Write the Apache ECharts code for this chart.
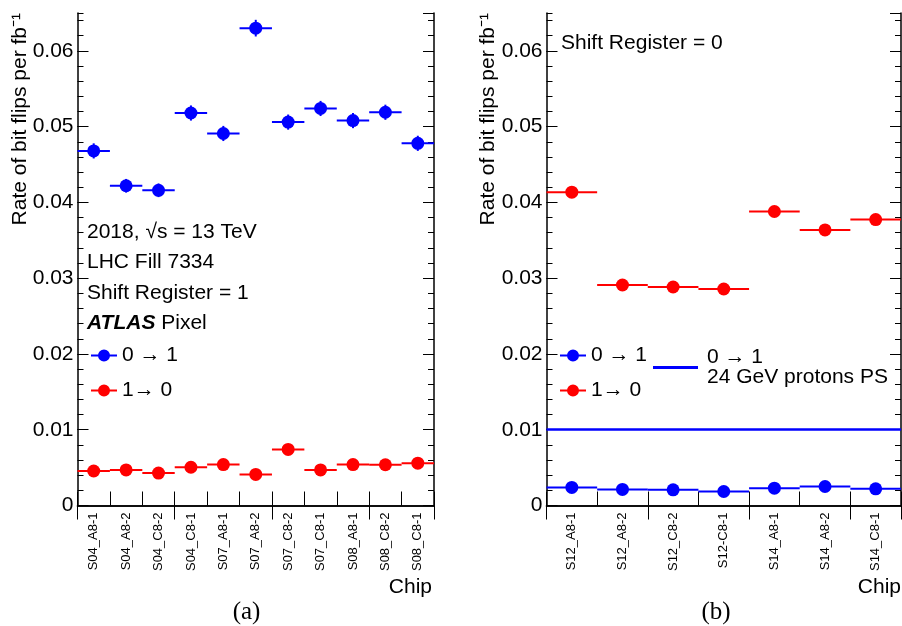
<!DOCTYPE html>
<html>
<head>
<meta charset="utf-8">
<script src="https://cdn.jsdelivr.net/npm/echarts@6/dist/echarts.min.js"></script>
<style>
html,body{margin:0;padding:0;background:#fff;}
#c{width:902px;height:626px;}
</style>
</head>
<body>
<div id="c"></div>
<script>
// ---------- data ----------
const chipsA = ['S04_A8-1','S04_A8-2','S04_C8-2','S04_C8-1','S07_A8-1','S07_A8-2','S07_C8-2','S07_C8-1','S08_A8-1','S08_C8-2','S08_C8-1'];
const a01 = [0.0468,0.0422,0.0416,0.0518,0.0491,0.0630,0.0506,0.0524,0.0508,0.0519,0.0478];
const a01Err = [0.0010,0.0009,0.0009,0.0010,0.0010,0.0011,0.0010,0.0010,0.0010,0.0010,0.0010];
const a10 = [0.00455,0.00470,0.00428,0.00505,0.00540,0.00410,0.00740,0.00470,0.00540,0.00538,0.00558];
const a10Err = [0.0003,0.0003,0.0003,0.0003,0.0003,0.0003,0.0004,0.0003,0.0003,0.0003,0.0003];

const chipsB = ['S12_A8-1','S12_A8-2','S12_C8-2','S12-C8-1','S14_A8-1','S14_A8-2','S14_C8-1'];
const b01 = [0.00238,0.00212,0.00207,0.00185,0.00229,0.00251,0.00220];
const b01Err = [0.0002,0.0002,0.0002,0.0002,0.0002,0.0002,0.0002];
const b10 = [0.04135,0.0291,0.02884,0.02857,0.0388,0.03637,0.03774];
const b10Err = [0.0003,0.0003,0.0003,0.0003,0.0003,0.0003,0.0003];
const psRate = 0.01;

const yMin = 0, yMax = 0.065, yMajor = 0.01, yMinor = 0.002;
const yTitle = 'Rate of bit flips per fb\u207B\u00B9';
const xTitle = 'Chip';

// ---------- styling ----------
const BLUE = '#0000ff', RED = '#ff0000';
const FONT = 'Liberation Sans, Arial, sans-serif';
const FS = 21;
// line + filled circle, same winding so the overlap stays filled
const legendIcon = 'path://M0,5 L26,5 L26,7 L0,7 Z M7,6 A6,6 0 1,1 19,6 A6,6 0 1,1 7,6 Z';

const chart = echarts.init(document.getElementById('c'), null, {renderer:'canvas'});

const grids = [
  {left: 77.5, right: 468, top: 13, bottom: 120.5},
  {left: 546.5, right: 1, top: 13, bottom: 120.5}
];

function xAxes(gi, cats){
  return [
    {type:'category', gridIndex:gi, data:cats, position:'bottom', boundaryGap:true,
     axisLine:{show:true, lineStyle:{color:'#000', width:1.5}},
     axisTick:{show:true, inside:true, length:14, alignWithLabel:false, lineStyle:{color:'#000', width:1}},
     axisLabel:{show:true, rotate:90, fontSize:13, fontFamily:FONT, color:'#000', margin:7, interval:0},
     splitLine:{show:false}},
    {type:'category', gridIndex:gi, data:cats, position:'top', boundaryGap:true,
     axisLine:{show:true, lineStyle:{color:'#000', width:1.5}},
     axisTick:{show:true, inside:true, length:14, alignWithLabel:false, lineStyle:{color:'#000', width:1}},
     axisLabel:{show:false}, splitLine:{show:false}}
  ];
}
function yAxes(gi){
  const base = {type:'value', gridIndex:gi, min:yMin, max:yMax, splitLine:{show:false}};
  return [
    Object.assign({}, base, {position:'left', interval:yMajor,
      axisLine:{show:true, lineStyle:{color:'#000', width:1.5}},
      axisTick:{show:true, inside:true, length:11, lineStyle:{color:'#000', width:1}},
      axisLabel:{show:true, fontSize:FS, fontFamily:FONT, color:'#000', margin:4, showMaxLabel:false,
        formatter: v => (Math.abs(v) < 1e-12 ? '0' : String(+v.toFixed(3)))}}),
    Object.assign({}, base, {position:'left', interval:yMinor,
      axisLine:{show:false}, axisTick:{show:true, inside:true, length:6, lineStyle:{color:'#000', width:1}},
      axisLabel:{show:false}}),
    Object.assign({}, base, {position:'right', interval:yMajor,
      axisLine:{show:true, lineStyle:{color:'#000', width:1.5}},
      axisTick:{show:true, inside:true, length:11, lineStyle:{color:'#000', width:1}},
      axisLabel:{show:false}}),
    Object.assign({}, base, {position:'right', interval:yMinor,
      axisLine:{show:false}, axisTick:{show:true, inside:true, length:6, lineStyle:{color:'#000', width:1}},
      axisLabel:{show:false}})
  ];
}

function errSeries(name, xi, yi, vals, errs, color){
  return {
    type:'custom', name:name, xAxisIndex:xi, yAxisIndex:yi, z:3,
    itemStyle:{color:color},
    data: vals.map((v,i)=>[i, v, errs[i]]),
    renderItem: function(params, api){
      const i = api.value(0), v = api.value(1), e = api.value(2);
      const c = api.coord([i, v]);
      const w = api.size([1, 0])[0];
      const lo = api.coord([i, v - e]), hi = api.coord([i, v + e]);
      return {type:'group', children:[
        {type:'line', shape:{x1:c[0]-w/2, y1:c[1], x2:c[0]+w/2, y2:c[1]}, style:{stroke:color, lineWidth:2}},
        {type:'line', shape:{x1:c[0], y1:lo[1], x2:c[0], y2:hi[1]}, style:{stroke:color, lineWidth:2}}
      ]};
    }
  };
}
function dotSeries(name, xi, yi, vals, color){
  return {type:'scatter', name:name, xAxisIndex:xi, yAxisIndex:yi, z:4,
    symbol:'circle', symbolSize:13, itemStyle:{color:color, opacity:1},
    data: vals.map((v,i)=>[i, v])};
}

const N01 = '0 \u2192 1', N10 = '1\u2192 0';
const series = [
  errSeries(N01, 0, 0, a01, a01Err, BLUE),
  dotSeries(N01, 0, 0, a01, BLUE),
  errSeries(N10, 0, 0, a10, a10Err, RED),
  dotSeries(N10, 0, 0, a10, RED),
  errSeries(N01, 2, 4, b01, b01Err, BLUE),
  dotSeries(N01, 2, 4, b01, BLUE),
  errSeries(N10, 2, 4, b10, b10Err, RED),
  dotSeries(N10, 2, 4, b10, RED),
  {type:'line', name:'PS', xAxisIndex:2, yAxisIndex:4, data:[], itemStyle:{color:BLUE},
   lineStyle:{color:BLUE, width:2.5},
   markLine:{silent:true, symbol:['none','none'], label:{show:false},
     lineStyle:{color:BLUE, width:2.5, type:'solid'},
     data:[{yAxis: psRate}]}}
];

const legText = {fontSize:FS, fontFamily:FONT, color:'#000', lineHeight:20};
const legItems = [{name:N01, icon:legendIcon, itemStyle:{color:BLUE, opacity:1}}, {name:N10, icon:legendIcon, itemStyle:{color:RED, opacity:1}}];
const option = {
  animation:false,
  backgroundColor:'#fff',
  grid: grids,
  xAxis: [...xAxes(0, chipsA), ...xAxes(1, chipsB)],
  yAxis: [...yAxes(0), ...yAxes(1)],
  legend: [
    {left:91, top:345, padding:0, orient:'vertical', itemGap:14, itemWidth:26, itemHeight:12, selectedMode:false,
     textStyle:legText, data:legItems},
    {left:560, top:345, padding:0, orient:'vertical', itemGap:14, itemWidth:26, itemHeight:12, selectedMode:false,
     textStyle:legText, data:legItems},
    {left:653, top:347, padding:0, orient:'vertical', itemWidth:45, itemHeight:3, itemGap:9, selectedMode:false,
     textStyle:Object.assign({}, legText, {padding:[0,0,0,4]}),
     formatter: () => '0 \u2192 1\n24 GeV protons PS',
     data:[{name:'PS', icon:'path://M0,0 L45,0 L45,3 L0,3 Z', itemStyle:{color:BLUE}}]}
  ],
  graphic: [
    {type:'text', x:20, y:13, rotation:Math.PI/2, style:{text:yTitle, font:FS+'px '+FONT, fill:'#000', textAlign:'right', textVerticalAlign:'middle'}},
    {type:'text', x:488, y:13, rotation:Math.PI/2, style:{text:yTitle, font:FS+'px '+FONT, fill:'#000', textAlign:'right', textVerticalAlign:'middle'}},
    {type:'text', x:432, y:587, style:{text:xTitle, font:FS+'px '+FONT, fill:'#000', textAlign:'right', textVerticalAlign:'middle'}},
    {type:'text', x:901, y:587, style:{text:xTitle, font:FS+'px '+FONT, fill:'#000', textAlign:'right', textVerticalAlign:'middle'}},
    {type:'text', x:246.5, y:612, style:{text:'(a)', font:'25px Liberation Serif, Times New Roman, serif', fill:'#000', textAlign:'center', textVerticalAlign:'middle'}},
    {type:'text', x:716, y:612, style:{text:'(b)', font:'25px Liberation Serif, Times New Roman, serif', fill:'#000', textAlign:'center', textVerticalAlign:'middle'}},
    {type:'text', x:87, y:232, style:{text:'2018, \u221As = 13 TeV', font:FS+'px '+FONT, fill:'#000', textVerticalAlign:'middle'}},
    {type:'text', x:87, y:262, style:{text:'LHC Fill 7334', font:FS+'px '+FONT, fill:'#000', textVerticalAlign:'middle'}},
    {type:'text', x:87, y:293, style:{text:'Shift Register = 1', font:FS+'px '+FONT, fill:'#000', textVerticalAlign:'middle'}},
    {type:'text', x:87, y:323, style:{text:'{b|ATLAS} Pixel', font:FS+'px '+FONT, fill:'#000', textVerticalAlign:'middle',
       rich:{b:{fontStyle:'italic', fontWeight:'bold', fontSize:FS, fontFamily:FONT}}}},
    {type:'text', x:561, y:43, style:{text:'Shift Register = 0', font:FS+'px '+FONT, fill:'#000', textVerticalAlign:'middle'}}
  ],
  series: series
};
chart.setOption(option);
</script>
</body>
</html>
